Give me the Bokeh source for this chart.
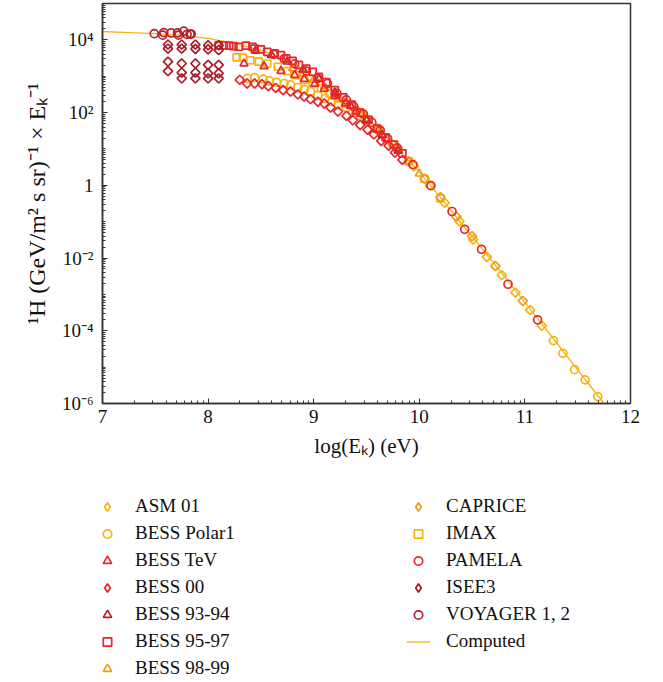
import numpy as np
from bokeh.plotting import figure
from bokeh.layouts import column
from bokeh.models import Legend, LegendItem, FixedTicker, CustomJSTickFormatter, Range1d
from bokeh.embed import file_html
from bokeh.resources import INLINE

FONT = "Liberation Serif"

# ---- data: x = log10(E_k / eV), y values given as log10 of flux ----
comp_x = [7.0, 7.25, 7.5, 7.75, 8.0, 8.15, 8.3, 8.45, 8.6, 8.75, 8.9, 9.05, 9.2, 9.35, 9.5, 9.65,
          9.8, 9.95, 10.1, 10.25, 10.4, 10.55, 10.7, 10.85, 11.0, 11.15, 11.3, 11.45, 11.6, 11.75]
comp_log = [4.23, 4.20, 4.17, 4.12, 4.04, 3.96, 3.86, 3.75, 3.62, 3.43, 3.20, 2.91, 2.58, 2.23, 1.86, 1.44,
            1.00, 0.52, 0.02, -0.51, -1.05, -1.58, -2.12, -2.67, -3.22, -3.77, -4.33, -4.89, -5.45, -6.0]

asm_x = [9.80, 9.95, 10.10, 10.24, 10.38, 10.51, 10.64, 10.78, 10.91, 11.05, 11.16]
asm_log = [1.02, 0.52, 0.00, -0.48, -0.99, -1.49, -1.97, -2.47, -2.95, -3.43, -3.86]

polar_x = [8.37, 8.44, 8.52, 8.58, 8.65, 8.72, 8.78, 8.85, 8.91, 8.97, 9.04, 9.11, 9.17, 9.23,
           9.31, 9.37, 9.44, 9.50, 11.27, 11.36, 11.47, 11.57, 11.69]
polar_log = [2.94, 2.96, 2.92, 2.87, 2.83, 2.80, 2.76, 2.69, 2.64, 2.58, 2.47, 2.39, 2.30, 2.21,
             2.14, 2.03, 1.91, 1.75, -4.27, -4.62, -5.07, -5.35, -5.81]

tev_x = [8.34, 8.53, 8.69, 8.82, 8.91, 9.01, 9.10, 9.20, 9.30, 9.40]
tev_log = [3.35, 3.27, 3.14, 3.03, 2.92, 2.79, 2.65, 2.45, 2.25, 2.03]

b00_x = [8.30, 8.37, 8.44, 8.51, 8.57, 8.64, 8.71, 8.78, 8.85, 8.91, 8.97, 9.04, 9.10, 9.16,
         9.23, 9.31, 9.37, 9.44, 9.51, 9.57, 9.64, 9.71, 9.77, 9.84]
b00_log = [2.90, 2.80, 2.80, 2.78, 2.73, 2.68, 2.62, 2.58, 2.50, 2.44, 2.37, 2.30, 2.25, 2.14,
           2.03, 1.91, 1.79, 1.66, 1.53, 1.40, 1.22, 1.09, 0.90, 0.70]

b9394_x = [8.45, 8.60, 8.75, 8.90, 9.05, 9.20, 9.35, 9.50, 9.65, 9.80]
b9394_log = [3.70, 3.58, 3.40, 3.18, 2.92, 2.55, 2.18, 1.80, 1.38, 0.95]

b9597_x = [8.10, 8.15, 8.20, 8.24, 8.29, 8.36, 8.42, 8.44, 8.50, 8.56, 8.63, 8.69, 8.74, 8.80,
           8.86, 8.93, 8.99, 9.05, 9.12, 9.20, 9.28, 9.36, 9.44, 9.52, 9.60, 9.68, 9.76, 9.84]
b9597_log = [3.85, 3.85, 3.84, 3.83, 3.81, 3.84, 3.81, 3.76, 3.74, 3.67, 3.63, 3.58, 3.49, 3.42,
             3.31, 3.21, 3.12, 2.98, 2.84, 2.62, 2.42, 2.22, 2.00, 1.80, 1.56, 1.32, 1.12, 0.88]

b9899_x = [8.80, 8.90, 9.00, 9.10, 9.20, 9.30, 9.40, 9.50, 9.60, 9.70, 9.80, 9.90, 10.00]
b9899_log = [3.22, 3.08, 2.90, 2.72, 2.50, 2.28, 2.06, 1.82, 1.56, 1.27, 0.98, 0.66, 0.32]

caprice_x = [9.45, 9.60, 9.75, 9.90, 10.05, 10.20, 10.35, 10.50, 10.72, 10.98]
caprice_log = [1.98, 1.56, 1.12, 0.66, 0.18, -0.33, -0.86, -1.40, -2.22, -3.18]

imax_x = [8.27, 8.33, 8.40, 8.48, 8.56, 8.66, 8.75, 8.83, 8.91, 8.99, 9.07, 9.15, 9.23, 9.30,
          9.40, 9.50, 9.62, 9.75, 9.90, 10.05, 10.20]
imax_log = [3.52, 3.51, 3.44, 3.40, 3.35, 3.26, 3.14, 3.03, 2.90, 2.80, 2.67, 2.53, 2.39, 2.25,
            2.05, 1.82, 1.52, 1.13, 0.66, 0.18, -0.36]

pamela_x = [8.62, 8.72, 8.82, 8.93, 9.04, 9.13, 9.22, 9.31, 9.38, 9.47, 9.55, 9.63, 9.70, 9.79,
            9.94, 10.11, 10.31, 10.43, 10.59, 10.84, 11.12]
pamela_log = [3.60, 3.48, 3.34, 3.14, 2.94, 2.80, 2.53, 2.35, 2.16, 1.96, 1.73, 1.51, 1.28, 1.03,
              0.57, -0.01, -0.72, -1.21, -1.76, -2.72, -3.70]

isee_x = [7.62, 7.62, 7.62, 7.62, 7.75, 7.75, 7.75, 7.75, 7.75, 7.88, 7.88, 7.88, 7.88, 7.88,
          8.00, 8.00, 8.00, 8.00, 8.00, 8.10, 8.10, 8.10, 8.10, 8.10]
isee_log = [3.87, 3.76, 3.40, 3.14, 3.87, 3.76, 3.35, 3.10, 2.94, 3.87, 3.75, 3.35, 3.10, 2.94,
            3.85, 3.74, 3.31, 3.08, 2.94, 3.85, 3.72, 3.31, 3.08, 2.94]

voy_x = [7.49, 7.57, 7.58, 7.65, 7.71, 7.72, 7.77, 7.80, 7.83, 7.84]
voy_log = [4.17, 4.13, 4.20, 4.19, 4.19, 4.13, 4.24, 4.15, 4.16, 4.16]

x_major = [7, 8, 9, 10, 11, 12]
y_major_exp = [-6, -4, -2, 0, 2, 4]


def lin(v):
    return [10.0 ** t for t in v]


p = figure(frame_width=528, frame_height=400, height=470, width=652,
           x_range=Range1d(7, 12), y_range=Range1d(1e-6, 1e5),
           y_axis_type="log", output_backend="svg", toolbar_location=None,
           min_border_left=102, min_border_right=22, min_border_top=3, min_border_bottom=67)
p.grid.visible = False
p.outline_line_color = "#333333"
p.outline_line_width = 1.5
p.background_fill_color = "white"
p.border_fill_color = "white"
p.frame_align = False

GOLD = "#F6B412"
RED = "#E8262D"
CRIMSON = "#B5202E"
DARKRED = "#A51D2C"
ORANGE = "#F29A1E"

STYLES = {
    "ASM 01": dict(marker="diamond", size=9, line_color=GOLD),
    "BESS Polar1": dict(marker="circle", size=8, line_color=GOLD),
    "BESS TeV": dict(marker="triangle", size=8, line_color=RED),
    "BESS 00": dict(marker="diamond", size=9, line_color=RED),
    "BESS 93-94": dict(marker="triangle", size=8, line_color=CRIMSON),
    "BESS 95-97": dict(marker="square", size=7, line_color=RED),
    "BESS 98-99": dict(marker="triangle", size=8, line_color=ORANGE),
    "CAPRICE": dict(marker="diamond", size=9, line_color=ORANGE),
    "IMAX": dict(marker="square", size=7, line_color=GOLD),
    "PAMELA": dict(marker="circle", size=8, line_color=RED),
    "ISEE3": dict(marker="diamond", size=9, line_color=DARKRED),
    "VOYAGER 1, 2": dict(marker="circle", size=8, line_color=CRIMSON),
}
common = dict(fill_color=None, line_width=1.7)


def plot_style(name):
    st = dict(STYLES[name])
    if st["marker"] == "diamond":
        # square diamond (equal width and height), as in the reference
        st.update(marker="square", size=6.5, angle=np.pi / 4)
    return st


p.line(comp_x, lin(comp_log), line_color=GOLD, line_width=1.3)
draw_order = [("BESS Polar1", polar_x, polar_log), ("ASM 01", asm_x, asm_log), ("IMAX", imax_x, imax_log),
              ("CAPRICE", caprice_x, caprice_log), ("BESS 98-99", b9899_x, b9899_log),
              ("BESS 00", b00_x, b00_log), ("BESS TeV", tev_x, tev_log), ("BESS 93-94", b9394_x, b9394_log),
              ("BESS 95-97", b9597_x, b9597_log), ("PAMELA", pamela_x, pamela_log),
              ("ISEE3", isee_x, isee_log), ("VOYAGER 1, 2", voy_x, voy_log)]
for name, xs, ys in draw_order:
    p.scatter(xs, lin(ys), **plot_style(name), **common)

# axes
xa = p.xaxis[0]
xa.ticker = FixedTicker(ticks=x_major,
                        minor_ticks=[float(n + np.log10(k)) for n in x_major[:-1] for k in range(2, 10)])
ya = p.yaxis[0]
ya.ticker = FixedTicker(ticks=[10.0 ** e for e in y_major_exp],
                        minor_ticks=[k * 10.0 ** n for n in range(-6, 5) for k in range(1, 10)])
ya.formatter = CustomJSTickFormatter(code="""
const e = Math.round(Math.log10(tick));
if (e === 0) { return "1"; }
const sup = {"-":"\u207b","0":"\u2070","1":"\u00b9","2":"\u00b2","3":"\u00b3","4":"\u2074",
             "5":"\u2075","6":"\u2076","7":"\u2077","8":"\u2078","9":"\u2079"};
return "10" + String(e).split("").map(c => sup[c]).join("");
""")

for ax in (xa, ya):
    ax.major_tick_in = 5
    ax.major_tick_out = 0
    ax.minor_tick_in = 3
    ax.minor_tick_out = 0
    ax.axis_line_color = "#333333"
    ax.axis_line_width = 1.5
    ax.major_tick_line_color = "#333333"
    ax.minor_tick_line_color = "#333333"
    ax.major_label_text_font = FONT
    ax.major_label_text_font_size = "19px"
    ax.major_label_text_color = "#111111"
    ax.axis_label_text_font = FONT
    ax.axis_label_text_font_size = "21px"
    ax.axis_label_text_font_style = "normal"
    ax.axis_label_text_color = "#111111"

xa.axis_label = "log(E\u2096) (eV)"
xa.major_label_standoff = 6
xa.axis_label_standoff = 8
ya.axis_label = "\u00b9H (GeV/m\u00b2 s sr)\u207b\u00b9 \u00d7 E\u2096\u207b\u00b9"
ya.axis_label_text_font_size = "24px"
ya.major_label_standoff = 9
ya.axis_label_standoff = 9

# ---- legend panel (separate figure below the chart) ----
q = figure(width=652, height=210, x_range=Range1d(0, 1), y_range=Range1d(0, 1),
           output_backend="svg", toolbar_location=None,
           min_border_left=0, min_border_right=0, min_border_top=0, min_border_bottom=0)
q.axis.visible = False
q.grid.visible = False
q.outline_line_color = None
q.background_fill_color = "white"
q.border_fill_color = "white"
q.frame_align = False

# legend-only renderers: their single point lies outside the visible range, so only the legend shows them
legend_renderers = {}
for name, st in STYLES.items():
    st = dict(st)
    if st["marker"] == "diamond":
        st["size"] = 11
    legend_renderers[name] = q.scatter([-5], [-5], **st, **common)
legend_renderers["Computed"] = q.line([-5, -4], [-5, -5], line_color=GOLD, line_width=1.3)

col1 = ["ASM 01", "BESS Polar1", "BESS TeV", "BESS 00", "BESS 93-94", "BESS 95-97", "BESS 98-99"]
col2 = ["CAPRICE", "IMAX", "PAMELA", "ISEE3", "VOYAGER 1, 2", "Computed"]

leg_style = dict(orientation="vertical", margin=0, padding=0, spacing=5,
                 glyph_width=24, glyph_height=21, label_height=21, label_standoff=16,
                 label_text_font=FONT, label_text_font_size="19px", label_text_color="#111111",
                 label_text_baseline="middle",
                 border_line_color=None, background_fill_alpha=0)

leg1 = Legend(items=[LegendItem(label=t, renderers=[legend_renderers[t]]) for t in col1],
              location=(95, 1), **leg_style)
leg2 = Legend(items=[LegendItem(label=t, renderers=[legend_renderers[t]]) for t in col2],
              location=(406, 28), **leg_style)
q.add_layout(leg1, "center")
q.add_layout(leg2, "center")

layout = column(p, q, spacing=0)
open("out.html", "w").write(file_html(layout, INLINE))
